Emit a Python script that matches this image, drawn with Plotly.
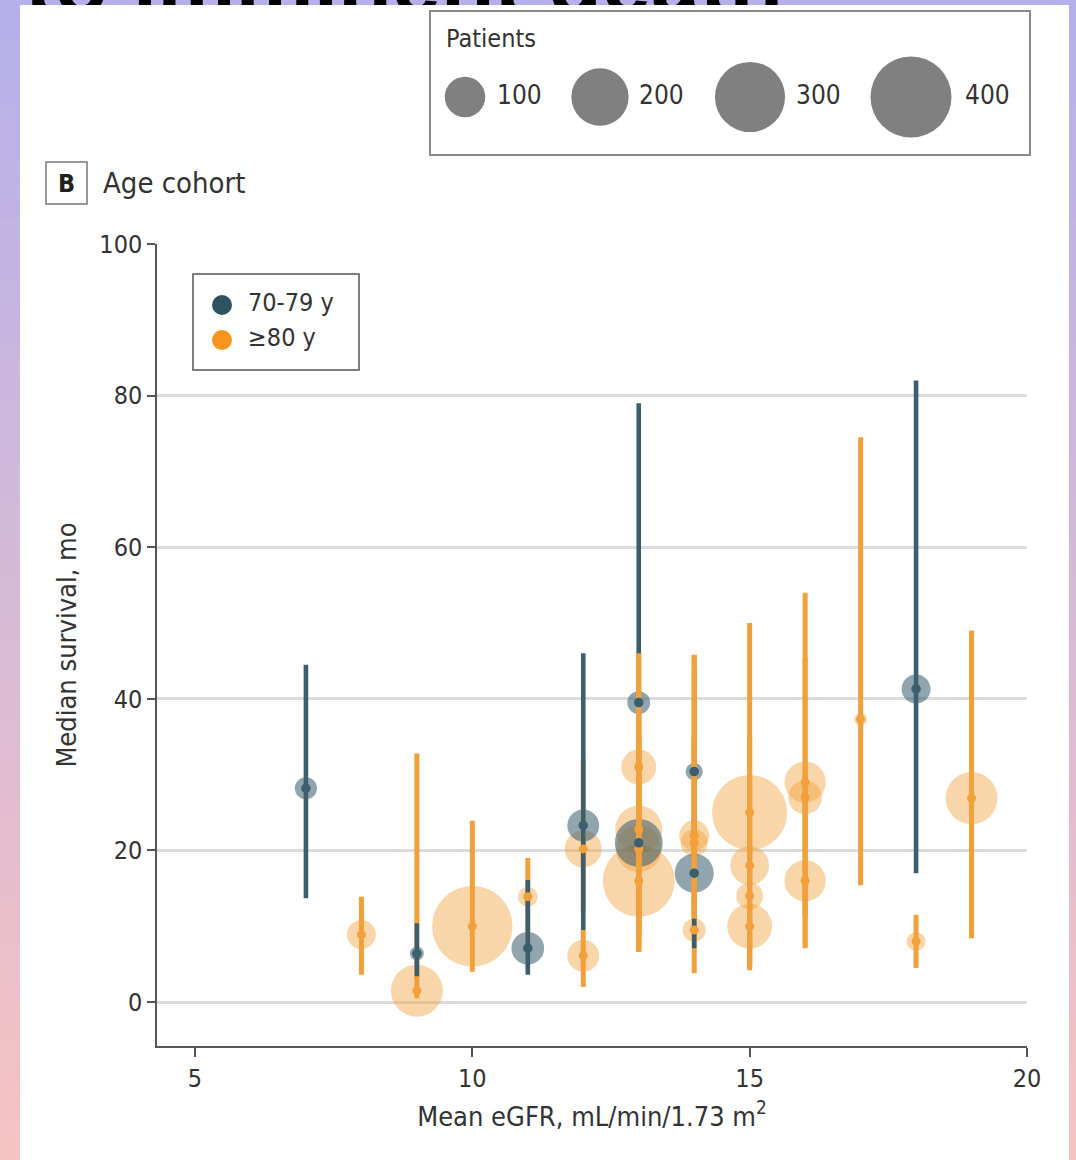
import plotly.graph_objects as go

W, H = 1076, 1160

# ---------------- data ----------------
teal_x = [7, 9, 11, 12, 13, 13, 14, 14, 18]
teal_med = [28.2, 6.4, 7.1, 23.3, 39.5, 21.0, 30.4, 17.0, 41.3]
teal_lo = [13.7, 3.4, 3.6, 9.5, 25.0, 11.0, 16.0, 7.1, 17.0]
teal_hi = [44.5, 10.4, 16.1, 46.0, 79.0, 34.0, 44.0, 29.0, 82.0]
teal_n = [30, 12, 65, 62, 32, 140, 18, 93, 51]

orange_x = [8, 9, 10, 11, 12, 12, 13, 13, 13, 13, 14, 14, 14, 15, 15, 15, 15, 16, 16, 16, 17, 18, 19]
orange_med = [8.9, 1.5, 10.0, 13.9, 20.2, 6.1, 31.0, 22.8, 20.2, 16.0, 22.0, 21.0, 9.5,
              25.0, 18.0, 14.0, 10.0, 29.0, 27.0, 16.0, 37.3, 8.0, 26.9]
orange_lo = [3.6, 0.5, 4.0, 8.0, 12.0, 2.0, 8.4, 10.0, 6.6, 7.0, 11.0, 12.0, 3.8,
             4.2, 6.0, 5.0, 4.5, 11.2, 7.1, 7.5, 15.4, 4.5, 8.4]
orange_hi = [13.9, 32.8, 23.9, 19.0, 32.0, 9.5, 46.0, 35.0, 38.0, 30.0, 45.8, 35.0, 12.0,
             50.0, 35.0, 30.0, 22.0, 54.0, 45.5, 30.0, 74.5, 11.5, 49.0]
orange_n = [51, 165, 395, 24, 83, 62, 75, 135, 130, 316, 55, 45, 33,
            345, 92, 44, 123, 104, 70, 104, 10, 22, 165]
# whether the >=80 y interval is drawn over the 70-79 y interval
orange_over = [False, False, False, False, False, False, True, True, True, True, True, True, False,
               False, False, False, False, False, False, False, False, False, False]

legend_patients = [100, 200, 300, 400]
legend_patient_labels = ["100", "200", "300", "400"]
x_ticks = [5, 10, 15, 20]
y_ticks = [0, 20, 40, 60, 80, 100]
cohort_names = ["70-79 y", "≥80 y"]
page_title = "Time to imminent death"

# ---------------- style ----------------
FONT = "Liberation Sans Narrow, DejaVu Sans Condensed, Arial Narrow, sans-serif"
TEAL = "#3b5f6e"
TEAL_BUB = "rgba(59,95,110,0.56)"
ORANGE = "#f2a03a"
ORANGE_BUB = "rgba(242,160,58,0.43)"
TEXT = "#333333"
SREF = 0.122  # marker size reference: diameter ~4.05*sqrt(patients)
TITLE_FS = 88
TITLE_BASE = 13  # title baseline, px from the top

fig = go.Figure()

# background gradient + white panel
top_c = (181, 176, 235)
bot_c = (246, 195, 195)
n_strips = 58
for i in range(n_strips):
    t = i / (n_strips - 1)
    c = tuple(int(round(top_c[k] + (bot_c[k] - top_c[k]) * t)) for k in range(3))
    fig.add_shape(type="rect", xref="paper", yref="paper",
                  x0=0, x1=1, y0=1 - (i + 1) / n_strips - 0.001, y1=1 - i / n_strips,
                  fillcolor="rgb(%d,%d,%d)" % c, line=dict(width=0), layer="below")
fig.add_shape(type="rect", xref="paper", yref="paper",
              x0=20 / W, x1=1069 / W, y0=0, y1=1 - 5 / H,
              fillcolor="white", line=dict(width=0), layer="below")

def split(vals, flags, want):
    return [v for v, f in zip(vals, flags) if f == want]

def err(med, lo, hi):
    return [h - m for m, h in zip(med, hi)], [m - l for m, l in zip(med, lo)]

# bubbles
fig.add_trace(go.Scatter(x=orange_x, y=orange_med, mode="markers",
                         marker=dict(size=orange_n, sizemode="area", sizeref=SREF, opacity=1,
                                     color=ORANGE_BUB, line=dict(width=0)),
                         hoverinfo="skip", showlegend=False))
fig.add_trace(go.Scatter(x=teal_x, y=teal_med, mode="markers",
                         marker=dict(size=teal_n, sizemode="area", sizeref=SREF, opacity=1,
                                     color=TEAL_BUB, line=dict(width=0)),
                         hoverinfo="skip", showlegend=False))

# orange intervals beneath teal
ox = split(orange_x, orange_over, False)
om = split(orange_med, orange_over, False)
ol = split(orange_lo, orange_over, False)
oh = split(orange_hi, orange_over, False)
up, dn = err(om, ol, oh)
fig.add_trace(go.Scatter(x=ox, y=om, mode="markers",
                         marker=dict(size=1, color="rgba(0,0,0,0)"),
                         error_y=dict(type="data", symmetric=False, array=up, arrayminus=dn,
                                      thickness=5, width=0, color=ORANGE),
                         hoverinfo="skip", showlegend=False))
# teal intervals
up, dn = err(teal_med, teal_lo, teal_hi)
fig.add_trace(go.Scatter(x=teal_x, y=teal_med, mode="markers",
                         marker=dict(size=1, color="rgba(0,0,0,0)"),
                         error_y=dict(type="data", symmetric=False, array=up, arrayminus=dn,
                                      thickness=4.6, width=0, color=TEAL),
                         hoverinfo="skip", showlegend=False))
# orange intervals over teal
ox = split(orange_x, orange_over, True)
om = split(orange_med, orange_over, True)
ol = split(orange_lo, orange_over, True)
oh = split(orange_hi, orange_over, True)
up, dn = err(om, ol, oh)
fig.add_trace(go.Scatter(x=ox, y=om, mode="markers",
                         marker=dict(size=1, color="rgba(0,0,0,0)"),
                         error_y=dict(type="data", symmetric=False, array=up, arrayminus=dn,
                                      thickness=5.4, width=0, color=ORANGE),
                         hoverinfo="skip", showlegend=False))
# median dots
fig.add_trace(go.Scatter(x=orange_x, y=orange_med, mode="markers",
                         marker=dict(size=9, color=ORANGE, line=dict(width=0)),
                         name=cohort_names[1], showlegend=False))
fig.add_trace(go.Scatter(x=teal_x, y=teal_med, mode="markers",
                         marker=dict(size=9.5, color=TEAL, line=dict(width=0)),
                         name=cohort_names[0], showlegend=False))

# ---------------- overlay (pixel) subplot for legends ----------------
patient_leg_x = [465, 600, 750, 911]
fig.add_trace(go.Scatter(x=patient_leg_x, y=[97] * 4, xaxis="x2", yaxis="y2", mode="markers",
                         marker=dict(size=legend_patients, sizemode="area", sizeref=SREF, opacity=1,
                                     color="#808080", line=dict(width=0)),
                         hoverinfo="skip", showlegend=False, cliponaxis=False))
fig.add_trace(go.Scatter(x=[497, 639, 796, 965], y=[97] * 4, xaxis="x2", yaxis="y2", mode="text",
                         text=legend_patient_labels, textposition="middle right",
                         textfont=dict(family=FONT, size=26, color=TEXT),
                         hoverinfo="skip", showlegend=False, cliponaxis=False))
fig.add_trace(go.Scatter(x=[222, 222], y=[305, 340], xaxis="x2", yaxis="y2", mode="markers",
                         marker=dict(size=20, color=["#2f5261", "#f7951f"], line=dict(width=0)),
                         hoverinfo="skip", showlegend=False, cliponaxis=False))
fig.add_trace(go.Scatter(x=[248, 248], y=[305, 340], xaxis="x2", yaxis="y2", mode="text",
                         text=cohort_names, textposition="middle right",
                         textfont=dict(family=FONT, size=25, color=TEXT),
                         hoverinfo="skip", showlegend=False, cliponaxis=False))

# page title, mostly outside the picture: only its lowest strokes show above the panel
# ('top' text sits with its baseline 0.25*size above the anchor point)
fig.add_trace(go.Scatter(x=[783], y=[TITLE_BASE + 0.25 * TITLE_FS], xaxis="x2", yaxis="y2", mode="text",
                         text=["<b>" + page_title + "</b>"], textposition="top left",
                         textfont=dict(family="Liberation Sans, Arial, sans-serif", size=TITLE_FS, color="black"),
                         hoverinfo="skip", showlegend=False, cliponaxis=False))
# white panel edge drawn over the title strokes
fig.add_shape(type="rect", xref="paper", yref="paper",
              x0=20 / W, x1=1069 / W, y0=1 - 40 / H, y1=1 - 5 / H,
              fillcolor="white", line=dict(width=0), layer="above")

# legend boxes and panel label
fig.add_shape(type="rect", xref="paper", yref="paper",
              x0=430 / W, x1=1030 / W, y0=1 - 155 / H, y1=1 - 11 / H,
              line=dict(color="#8a8a8a", width=2), fillcolor="rgba(0,0,0,0)", layer="above")
fig.add_shape(type="rect", xref="paper", yref="paper",
              x0=193 / W, x1=359 / W, y0=1 - 370 / H, y1=1 - 274 / H,
              line=dict(color="#555555", width=1.5), fillcolor="white", layer="below")
fig.add_shape(type="rect", xref="paper", yref="paper",
              x0=46 / W, x1=87 / W, y0=1 - 204 / H, y1=1 - 162 / H,
              line=dict(color="#777777", width=1.5), fillcolor="white")
fig.add_annotation(x=66.5 / W, y=1 - 183 / H, xref="paper", yref="paper", text="<b>B</b>",
                   showarrow=False, xanchor="center", yanchor="middle",
                   font=dict(family=FONT, size=25, color="#222222"))
fig.add_annotation(x=101 / W, y=1 - 183 / H, xref="paper", yref="paper", text="Age cohort",
                   showarrow=False, xanchor="left", yanchor="middle",
                   font=dict(family=FONT, size=29, color=TEXT))
fig.add_annotation(x=444 / W, y=1 - 39 / H, xref="paper", yref="paper", text="Patients",
                   showarrow=False, xanchor="left", yanchor="middle",
                   font=dict(family=FONT, size=25, color=TEXT))

fig.update_layout(
    width=W, height=H, autosize=False,
    margin=dict(l=0, r=0, t=0, b=0, pad=0, autoexpand=False),
    paper_bgcolor="white",
    plot_bgcolor="rgba(0,0,0,0)",
    font=dict(family=FONT, color=TEXT),
    showlegend=False,
    xaxis=dict(domain=[157 / W, 1027 / W], range=[4.315, 20], tickvals=x_ticks,
               showgrid=False, zeroline=False, showline=True, linecolor="#555555", linewidth=1.5,
               ticks="outside", ticklen=9, tickwidth=1.5, tickcolor="#555555",
               tickfont=dict(size=25, color=TEXT), automargin=False,
               title=dict(text="Mean eGFR, mL/min/1.73 m<sup>2</sup>", font=dict(size=27, color=TEXT))),
    yaxis=dict(domain=[1 - 1046 / H, 1 - 244 / H], range=[-5.8, 100], tickvals=y_ticks,
               showgrid=True, gridcolor="#dcdcdc", gridwidth=3, zeroline=False,
               showline=True, linecolor="#555555", linewidth=1.5,
               ticks="outside", ticklen=8, tickwidth=1.5, tickcolor="#555555",
               tickfont=dict(size=25, color=TEXT), automargin=False,
               title=dict(text="Median survival, mo", font=dict(size=27, color=TEXT))),
    xaxis2=dict(domain=[0, 1], range=[0, W], visible=False, anchor="y2", automargin=False),
    yaxis2=dict(domain=[0, 1], range=[H, 0], visible=False, anchor="x2", automargin=False),
)

fig.write_html("out.html")
